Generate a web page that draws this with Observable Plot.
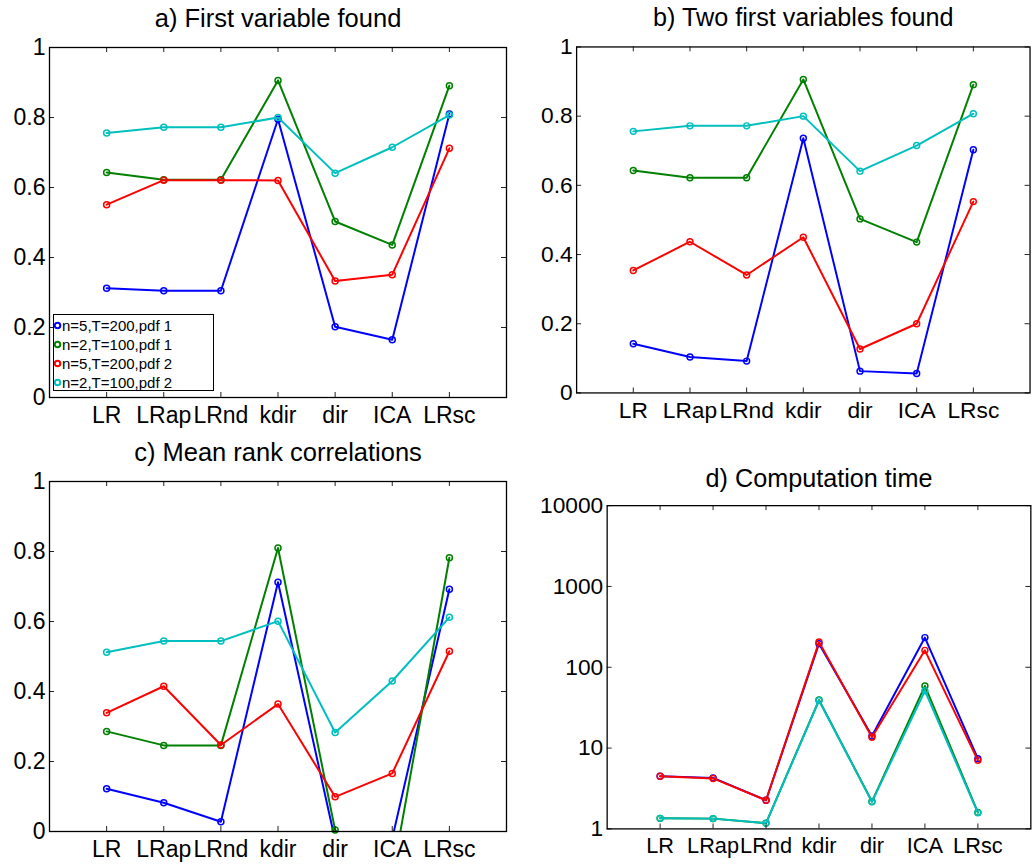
<!DOCTYPE html>
<html>
<head>
<meta charset="utf-8">
<script src="https://cdn.jsdelivr.net/npm/d3@7"></script>
<script src="https://cdn.jsdelivr.net/npm/@observablehq/plot@0.6"></script>
<style>
  html, body { margin: 0; padding: 0; background: #fff; }
  #root { position: relative; width: 1034px; height: 865px; overflow: hidden; background: #fff;
          font-family: "Liberation Sans", Arial, Helvetica, sans-serif; }
  .panel { position: absolute; }
  .legend { position: absolute; box-sizing: border-box; border: 1.5px solid #000; background: #fff;
            font-size: 15px; color: #000; }
  .legend .row { position: absolute; left: 0; height: 19px; line-height: 19px; white-space: nowrap; }
  .legend svg { position: absolute; left: 0; top: 5px; }
  .legend span { position: absolute; left: 8px; top: 0; }
</style>
</head>
<body>
<div id="root"></div>
<script>
// ---- data ----
const methods = ["LR", "LRap", "LRnd", "kdir", "dir", "ICA", "LRsc"];
const seriesNames = ["n=5,T=200,pdf 1", "n=2,T=100,pdf 1", "n=5,T=200,pdf 2", "n=2,T=100,pdf 2"];
const seriesColors = ["#0000ff", "#008000", "#ff0000", "#00bfbf"];
const panelTitles = ["a) First variable found", "b) Two first variables found", "c) Mean rank correlations", "d) Computation time"];
const linearTicks = [0, 0.2, 0.4, 0.6, 0.8, 1];
const linearTickLabels = ["0", "0.2", "0.4", "0.6", "0.8", "1"];
const logTicks = [1, 10, 100, 1000, 10000];
const logTickLabels = ["1", "10", "100", "1000", "10000"];

// a) First variable found
const firstFound_s1 = [0.312, 0.305, 0.305, 0.795, 0.202, 0.165, 0.810];
const firstFound_s2 = [0.643, 0.622, 0.622, 0.906, 0.503, 0.436, 0.891];
const firstFound_s3 = [0.551, 0.621, 0.621, 0.620, 0.333, 0.351, 0.712];
const firstFound_s4 = [0.756, 0.772, 0.772, 0.800, 0.641, 0.715, 0.807];
// b) Two first variables found
const twoFound_s1 = [0.142, 0.104, 0.092, 0.736, 0.063, 0.056, 0.703];
const twoFound_s2 = [0.643, 0.622, 0.622, 0.906, 0.503, 0.436, 0.891];
const twoFound_s3 = [0.354, 0.437, 0.341, 0.450, 0.127, 0.200, 0.553];
const twoFound_s4 = [0.756, 0.772, 0.772, 0.800, 0.641, 0.715, 0.807];
// c) Mean rank correlations
const rankCorr_s1 = [0.122, 0.082, 0.028, 0.712, -0.025, -0.02, 0.692];
const rankCorr_s2 = [0.286, 0.246, 0.246, 0.810, 0.004, -0.13, 0.782];
const rankCorr_s3 = [0.339, 0.415, 0.247, 0.364, 0.099, 0.166, 0.515];
const rankCorr_s4 = [0.512, 0.544, 0.544, 0.601, 0.283, 0.430, 0.612];
// d) Computation time
const compTime_s1 = [4.49, 4.28, 2.26, 196, 14.1, 233, 7.4];
const compTime_s2 = [1.35, 1.34, 1.18, 39.3, 2.18, 58.8, 1.60];
const compTime_s3 = [4.49, 4.21, 2.26, 205, 13.6, 162, 7.05];
const compTime_s4 = [1.35, 1.34, 1.18, 38.8, 2.16, 51.2, 1.58];

const FONT = '"Liberation Sans", Arial, Helvetica, sans-serif';
const root = document.getElementById("root");
const hasAxisMarks = typeof Plot.axisX === "function";

function makePanel({series, title, left, top, width, height, ml, mr, mt, mb, log = false, titleDy, xFont = 23}) {
  const fw = width - ml - mr;
  const fh = height - mt - mb;
  const xTicks = methods.map((m, i) => i + 1);
  const yTicks = log ? logTicks : linearTicks;
  const yLabels = log ? logTickLabels : linearTickLabels;
  const yDomain = log ? [1, 10000] : [0, 1];
  const xFmt = d => methods[d - 1];
  const yFmt = d => yLabels[yTicks.indexOf(d)];
  const marks = [];
  series.forEach((vals, s) => {
    const rows = vals.map((v, i) => ({x: i + 1, v, m: methods[i]}));
    marks.push(Plot.line(rows, {x: "x", y: "v", stroke: seriesColors[s], strokeWidth: 2, clip: true}));
    marks.push(Plot.dot(rows.filter(d => d.v >= yDomain[0] && d.v <= yDomain[1]),
      {x: "x", y: "v", r: 3, stroke: seriesColors[s], strokeWidth: 1.5, fill: "none"}));
  });
  // MATLAB-style inward ticks on all four sides
  marks.push(Plot.tickX(xTicks, {x: d => d, insetTop: fh - 5, stroke: "#222", strokeWidth: 1}));
  marks.push(Plot.tickX(xTicks, {x: d => d, insetBottom: fh - 5, stroke: "#222", strokeWidth: 1}));
  marks.push(Plot.tickY(yTicks, {y: d => d, insetRight: fw - 5, stroke: "#222", strokeWidth: 1}));
  marks.push(Plot.tickY(yTicks, {y: d => d, insetLeft: fw - 5, stroke: "#222", strokeWidth: 1}));
  marks.push(Plot.frame({stroke: "#000", strokeWidth: 1.3}));
  marks.push(Plot.text([title], {text: d => d, frameAnchor: "top", dy: titleDy, fontSize: 25.5, fill: "#000", lineAnchor: "middle"}));
  if (hasAxisMarks) {
    marks.push(Plot.axisX({ticks: xTicks, tickFormat: xFmt, tickSize: 0, tickPadding: 9, fontSize: xFont, label: null, fill: "#000"}));
    marks.push(Plot.axisY({ticks: yTicks, tickFormat: yFmt, tickSize: 0, tickPadding: 4, fontSize: 23, label: null, fill: "#000"}));
  }

  const svg = Plot.plot({
    width, height,
    marginLeft: ml, marginRight: mr, marginTop: mt, marginBottom: mb,
    style: {fontSize: "23px", fontFamily: FONT, color: "#000", background: "transparent", overflow: "visible"},
    x: {type: "linear", domain: [0, 8], ticks: xTicks, tickFormat: xFmt, tickSize: 0, tickPadding: 9, label: null},
    y: log
      ? {type: "log", domain: yDomain, ticks: yTicks, tickFormat: yFmt, tickSize: 0, tickPadding: 4, label: null}
      : {type: "linear", domain: yDomain, ticks: yTicks, tickFormat: yFmt, tickSize: 0, tickPadding: 4, label: null},
    marks
  });
  const div = document.createElement("div");
  div.className = "panel";
  div.style.left = left + "px";
  div.style.top = top + "px";
  div.appendChild(svg);
  root.appendChild(div);
}

makePanel({series: [firstFound_s1, firstFound_s2, firstFound_s3, firstFound_s4], title: panelTitles[0],
  left: 0, top: 0, width: 517, height: 432, ml: 49, mr: 11, mt: 47, mb: 35, titleDy: -29});
makePanel({series: [twoFound_s1, twoFound_s2, twoFound_s3, twoFound_s4], title: panelTitles[1],
  left: 517, top: 0, width: 523, height: 432, ml: 59.8, mr: 4.5, mt: 47, mb: 35, titleDy: -29});
makePanel({series: [rankCorr_s1, rankCorr_s2, rankCorr_s3, rankCorr_s4], title: panelTitles[2],
  left: 0, top: 432, width: 517, height: 433, ml: 49, mr: 11, mt: 49, mb: 34, titleDy: -29});
makePanel({series: [compTime_s1, compTime_s2, compTime_s3, compTime_s4], title: panelTitles[3],
  left: 517, top: 432, width: 523, height: 433, ml: 90.7, mr: 3.7, mt: 74, mb: 32, log: true, titleDy: -27, xFont: 22});

// legend (panel a)
const legend = document.createElement("div");
legend.className = "legend";
legend.style.left = "53px";
legend.style.top = "314px";
legend.style.width = "161px";
legend.style.height = "77px";
seriesNames.forEach((name, i) => {
  const row = document.createElement("div");
  row.className = "row";
  row.style.top = (0.5 + i * 19.2) + "px";
  row.innerHTML = `<svg width="8" height="9"><circle cx="3.5" cy="4.5" r="2.8" fill="none" stroke="${seriesColors[i]}" stroke-width="2"/></svg><span>${name}</span>`;
  legend.appendChild(row);
});
root.appendChild(legend);
</script>
</body>
</html>
